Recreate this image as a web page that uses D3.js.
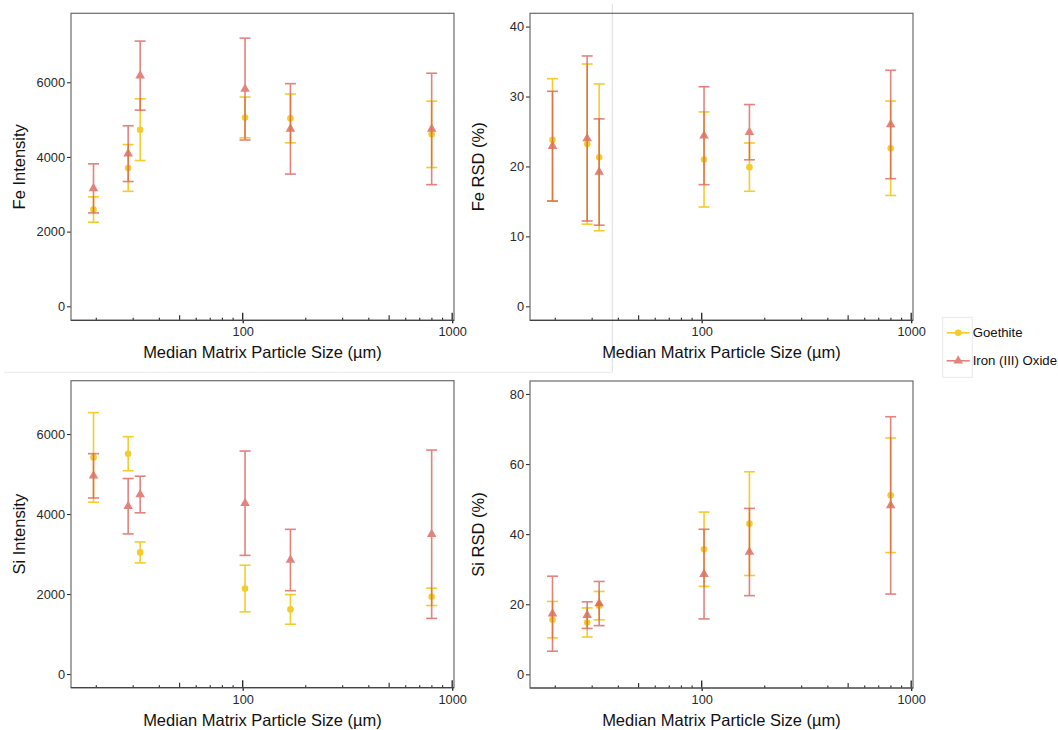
<!DOCTYPE html>
<html>
<head>
<meta charset="utf-8">
<script src="https://cdn.jsdelivr.net/npm/d3@7"></script>
<style>
  body { margin: 0; background: white; }
  text { font-family: "Liberation Sans", Arial, sans-serif; }
</style>
</head>
<body>
<div id="chart"></div>
<script>
// particle sizes (x) shared by all four panels
let sizes = [19.4, 28.4, 32.4, 102.6, 169, 798];
let seriesNames = ['Goethite', 'Iron (III) Oxide'];
let xTickLabels = [100, 1000];

// Fe intensity (mean, sd)
let feIntGoethite = [2592, 3705, 4730, 5058, 5032, 4605];
let feIntGoethiteSd = [339, 626, 826, 546, 653, 889];
let feIntIron = [3158, 4088, 6178, 5818, 4752, 4750];
let feIntIronSd = [657, 747, 925, 1364, 1211, 1492];

// Fe RSD (%)
let feRsdGoethite = [23.8, 23.2, 21.3, 21.0, 19.9, 22.6];
let feRsdGoethiteSd = [8.75, 11.45, 10.5, 6.8, 3.45, 6.75];
let feRsdIron = [22.9, 24.0, 19.2, 24.4, 24.9, 26.0];
let feRsdIronSd = [7.85, 11.8, 7.6, 7.0, 3.95, 7.75];

// Si intensity
let siIntGoethite = [5415, 5508, 3040, 2137, 1615, 1930];
let siIntGoethiteSd = [1120, 425, 262, 583, 370, 217];
let siIntIron = [4955, 4195, 4488, 4270, 2850, 3495];
let siIntIronSd = [554, 692, 458, 1304, 767, 2104];

// Si RSD (%)
let siRsdGoethite = [15.6, 14.8, 19.6, 35.7, 43.0, 51.1];
let siRsdGoethiteSd = [5.2, 4.15, 4.05, 10.6, 14.8, 16.35];
let siRsdIron = [17.3, 16.9, 20.2, 28.6, 34.9, 48.2];
let siRsdIronSd = [10.7, 3.8, 6.3, 12.8, 12.45, 25.3];

let width = 1058, height = 730;
let pw = 383, ph = 307;

let colors = { 'Goethite': '#f2c200', 'Iron (III) Oxide': '#d9544d' };
let alphas = { 'Goethite': 0.82, 'Iron (III) Oxide': 0.72 };

let panels = [
  { title: 'Fe Intensity', left: 71, top: 13.3, domain: [-375, 7847], ticks: [0, 2000, 4000, 6000],
    g: feIntGoethite, gsd: feIntGoethiteSd, r: feIntIron, rsd: feIntIronSd },
  { title: 'Fe RSD (%)', left: 530, top: 13.3, domain: [-2.0, 41.9], ticks: [0, 10, 20, 30, 40],
    g: feRsdGoethite, gsd: feRsdGoethiteSd, r: feRsdIron, rsd: feRsdIronSd },
  { title: 'Si Intensity', left: 71, top: 380.7, domain: [-342, 7333], ticks: [0, 2000, 4000, 6000],
    g: siIntGoethite, gsd: siIntGoethiteSd, r: siIntIron, rsd: siIntIronSd },
  { title: 'Si RSD (%)', left: 530, top: 381, domain: [-3.9, 83.7], ticks: [0, 20, 40, 60, 80],
    g: siRsdGoethite, gsd: siRsdGoethiteSd, r: siRsdIron, rsd: siRsdIronSd }
];

let svg = d3.select('#chart')
  .append('svg')
    .attr('width', width)
    .attr('height', height)
    .style('background-color', 'white');

// faint leftover frame lines from the pasted figure
svg.append('line')
  .attr('x1', 612.3).attr('x2', 612.3).attr('y1', 4).attr('y2', 372)
  .attr('stroke', '#dcdcdc').attr('stroke-width', 1);
svg.append('line')
  .attr('x1', 4).attr('x2', 612.3).attr('y1', 372.3).attr('y2', 372.3)
  .attr('stroke', '#ececec').attr('stroke-width', 1);

let xScale = d3.scaleLog()
  .domain([15.15, 1020])
  .range([0, pw]);

// log tick marks (annotation_logticks style, drawn inside the panel)
let logTicks = [];
[10, 100].forEach(function(base) {
  for (let k = 2; k <= 9; k++) logTicks.push({ v: base * k, len: k == 5 ? 5 : 2.5 });
});
xTickLabels.forEach(v => logTicks.push({ v: v, len: 7.5 }));

let triangle = d3.symbol().type(d3.symbolTriangle).size(40);

panels.forEach(function(p) {
  let yScale = d3.scaleLinear()
    .domain(p.domain)
    .range([ph, 0]);

  let group = svg.append('g')
    .attr('transform', 'translate(' + p.left + ', ' + p.top + ')');

  // y axis
  let yAxis = d3.axisLeft(yScale)
    .tickValues(p.ticks)
    .tickSize(4)
    .tickPadding(2)
    .tickFormat(d3.format('d'));
  let ya = group.append('g').call(yAxis);
  ya.select('.domain').remove();
  ya.selectAll('line').attr('stroke', '#333').attr('stroke-width', 1.1);
  ya.selectAll('text').attr('fill', '#2a2a2a').style('font-size', '12.8px');

  // x axis
  let xAxis = d3.axisBottom(xScale)
    .tickValues(xTickLabels)
    .tickSize(3)
    .tickPadding(4)
    .tickFormat(d3.format('d'));
  let xa = group.append('g')
    .attr('transform', `translate(0, ${ph})`)
    .call(xAxis);
  xa.select('.domain').remove();
  xa.selectAll('line').attr('stroke', '#222').attr('stroke-width', 1.3);
  xa.selectAll('text').attr('fill', '#2a2a2a').style('font-size', '12.8px');

  group.selectAll('.logtick')
    .data(logTicks)
    .enter()
    .append('line')
      .attr('class', 'logtick')
      .attr('x1', d => xScale(d.v))
      .attr('x2', d => xScale(d.v))
      .attr('y1', ph)
      .attr('y2', d => ph - d.len)
      .attr('stroke', '#222')
      .attr('stroke-width', d => d.len > 6 ? 1.3 : 1.1);

  // panel border
  group.append('rect')
    .attr('x', 0).attr('y', 0)
    .attr('width', pw).attr('height', ph)
    .attr('fill', 'none')
    .attr('stroke', '#6b6b6b')
    .attr('stroke-width', 1.2);
  group.append('line')
    .attr('x1', 0).attr('x2', pw).attr('y1', ph).attr('y2', ph)
    .attr('stroke', '#444').attr('stroke-width', 1.2);

  // axis titles
  group.append('text')
    .attr('x', pw / 2)
    .attr('y', ph + 38)
    .style('text-anchor', 'middle')
    .style('font-size', '16.5px')
    .attr('fill', '#111')
    .text('Median Matrix Particle Size (\u00b5m)');

  group.append('text')
    .attr('transform', `translate(${-46}, ${ph / 2}) rotate(-90)`)
    .style('text-anchor', 'middle')
    .style('font-size', '16.5px')
    .attr('fill', '#111')
    .text(p.title);

  // error bars and points, goethite first, iron oxide on top
  let seriesData = [
    { name: seriesNames[0], values: sizes.map((s, i) => ({ x: s, y: p.g[i], sd: p.gsd[i] })) },
    { name: seriesNames[1], values: sizes.map((s, i) => ({ x: s, y: p.r[i], sd: p.rsd[i] })) }
  ];

  seriesData.forEach(function(s) {
    let sg = group.append('g')
      .attr('stroke', colors[s.name])
      .attr('fill', colors[s.name])
      .attr('opacity', alphas[s.name]);

    let bars = sg.selectAll('.bar')
      .data(s.values)
      .enter()
      .append('g')
        .attr('class', 'bar');
    bars.append('line')
      .attr('x1', d => xScale(d.x)).attr('x2', d => xScale(d.x))
      .attr('y1', d => yScale(d.y + d.sd)).attr('y2', d => yScale(d.y - d.sd))
      .attr('stroke-width', 1.6);
    bars.append('line')
      .attr('x1', d => xScale(d.x) - 5.5).attr('x2', d => xScale(d.x) + 5.5)
      .attr('y1', d => yScale(d.y + d.sd)).attr('y2', d => yScale(d.y + d.sd))
      .attr('stroke-width', 1.6);
    bars.append('line')
      .attr('x1', d => xScale(d.x) - 5.5).attr('x2', d => xScale(d.x) + 5.5)
      .attr('y1', d => yScale(d.y - d.sd)).attr('y2', d => yScale(d.y - d.sd))
      .attr('stroke-width', 1.6);

    if (s.name == seriesNames[0]) {
      sg.selectAll('circle')
        .data(s.values)
        .enter()
        .append('circle')
          .attr('cx', d => xScale(d.x))
          .attr('cy', d => yScale(d.y))
          .attr('r', 3.3)
          .attr('stroke', 'none');
    } else {
      sg.selectAll('.tri')
        .data(s.values)
        .enter()
        .append('path')
          .attr('class', 'tri')
          .attr('d', triangle)
          .attr('transform', d => `translate(${xScale(d.x)}, ${yScale(d.y)})`)
          .attr('stroke', 'none');
    }
  });
});

// legend
let legend = svg.append('g')
  .attr('transform', 'translate(942.7, 317.3)');
legend.append('rect')
  .attr('width', 29.6).attr('height', 60)
  .attr('fill', 'none')
  .attr('stroke', '#e8e8e8')
  .attr('stroke-width', 1);

seriesNames.forEach(function(name, i) {
  let row = legend.append('g')
    .attr('transform', `translate(0, ${15.5 + i * 28})`);
  let key = row.append('g')
    .attr('stroke', colors[name])
    .attr('fill', colors[name])
    .attr('opacity', alphas[name]);
  key.append('line')
    .attr('x1', 4).attr('x2', 27)
    .attr('stroke-width', 1.6);
  if (i == 0) {
    key.append('circle').attr('cx', 15.5).attr('r', 3.3).attr('stroke', 'none');
  } else {
    key.append('path').attr('d', triangle).attr('transform', 'translate(15.5, 0)').attr('stroke', 'none');
  }
  row.append('text')
    .attr('x', 30)
    .attr('dy', '0.35em')
    .style('font-size', '13.2px')
    .attr('fill', '#111')
    .text(name);
});
</script>
</body>
</html>
